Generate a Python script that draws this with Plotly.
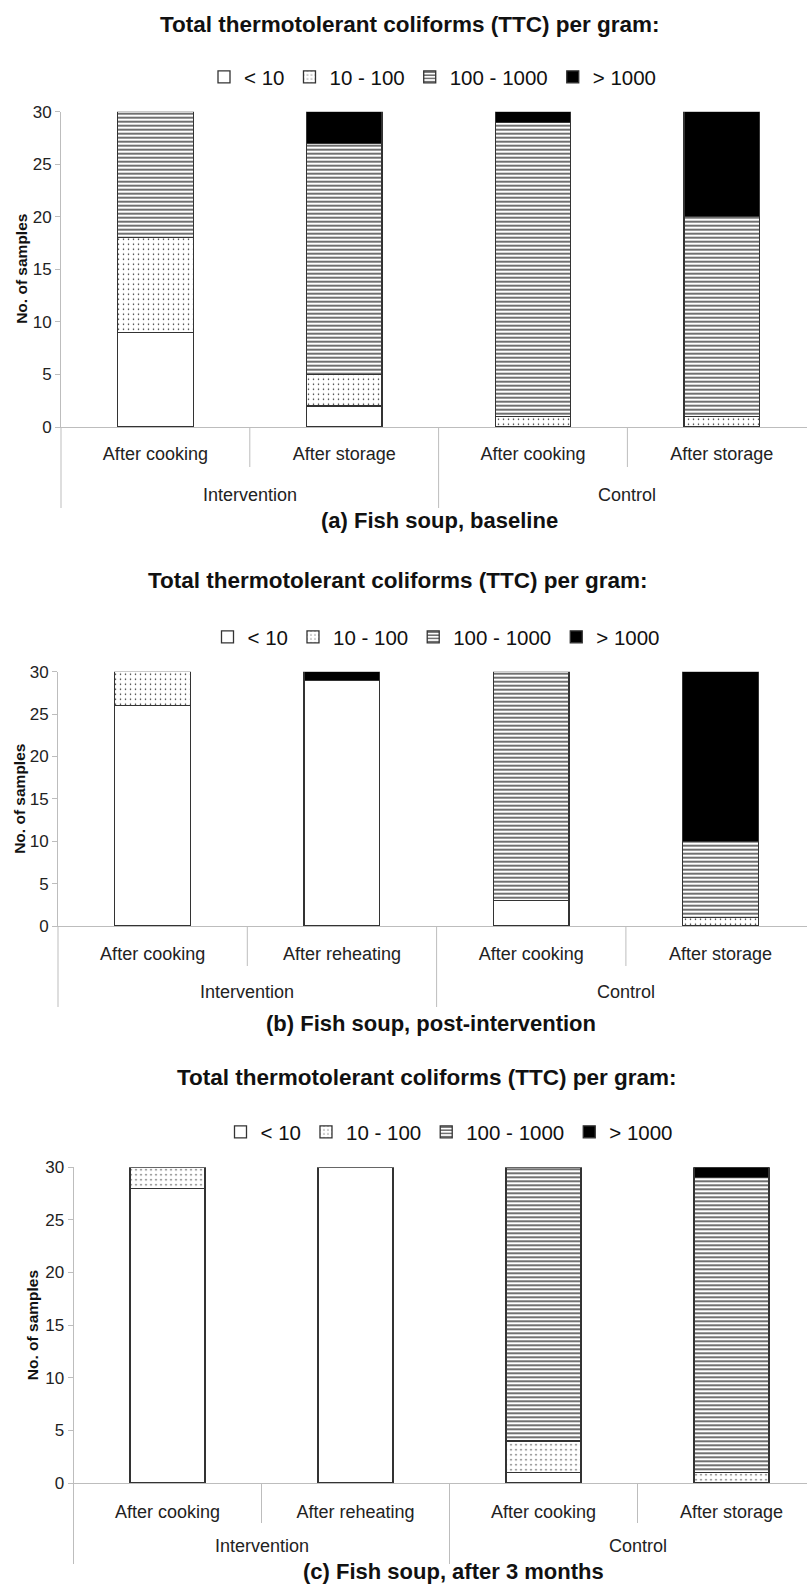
import plotly.graph_objects as go

# ---------------- data ----------------
levels = ["< 10", "10 - 100", "100 - 1000", "> 1000"]
groups = ["Intervention", "Control"]
cats_a = ["After cooking", "After storage", "After cooking", "After storage"]
cats_bc = ["After cooking", "After reheating", "After cooking", "After storage"]

a_lt10 = [9, 2, 0, 0]
a_10_100 = [9, 3, 1, 1]
a_100_1000 = [12, 22, 28, 19]
a_gt1000 = [0, 3, 1, 10]

b_lt10 = [26, 29, 3, 0]
b_10_100 = [4, 0, 0, 1]
b_100_1000 = [0, 0, 27, 9]
b_gt1000 = [0, 1, 0, 20]

c_lt10 = [28, 30, 1, 0]
c_10_100 = [2, 0, 3, 1]
c_100_1000 = [0, 0, 26, 28]
c_gt1000 = [0, 0, 0, 1]

title_text = "Total thermotolerant coliforms (TTC) per gram:"
captions = ["(a) Fish soup, baseline", "(b) Fish soup, post-intervention",
            "(c) Fish soup, after 3 months"]
y_title = "No. of samples"
y_ticks = [0, 5, 10, 15, 20, 25, 30]

# ---------------- layout geometry (pixels) ----------------
W, H = 807, 1589
FONT = "Liberation Sans, Arial, Helvetica, sans-serif"
AXC = "#bdbdbd"


def py(p):
    return 1 - p / H


def px(p):
    return p / W


panels = [
    dict(data=[a_lt10, a_10_100, a_100_1000, a_gt1000], cats=cats_a,
         left=61, catw=188.8, top=111.7, zero=427,
         title_y=25, title_x=410, leg_y=77, leg_x=433,
         cap_y=520, cap_x=439, lab=10, grp=68, ytx=21.5),
    dict(data=[b_lt10, b_10_100, b_100_1000, b_gt1000], cats=cats_bc,
         left=58, catw=189.3, top=671.7, zero=926,
         title_y=581, title_x=398, leg_y=637, leg_x=436.5,
         cap_y=1023, cap_x=431, lab=11, grp=66, ytx=20),
    dict(data=[c_lt10, c_10_100, c_100_1000, c_gt1000], cats=cats_bc,
         left=73.5, catw=188.0, top=1167.3, zero=1483,
         title_y=1077, title_x=427, leg_y=1132, leg_x=449.5,
         cap_y=1571, cap_x=453, lab=12, grp=63, ytx=32),
]

styles = [
    dict(color="white"),
    dict(color="white", pattern=dict(shape=".", fgcolor="#222", bgcolor="white",
                                     size=5, solidity=0.07, fillmode="replace")),
    dict(color="white", pattern=dict(shape="-", fgcolor="#111", bgcolor="white",
                                     size=4, solidity=0.3, fillmode="replace")),
    dict(color="black"),
]

fig = go.Figure()
shapes = []
annotations = []

for i, p in enumerate(panels):
    n = "" if i == 0 else str(i + 1)
    xa, ya = "x" + n, "y" + n
    leg = "legend" + n
    xpos = list(range(len(p["cats"])))
    for lv, vals, st in zip(levels, p["data"], styles):
        fig.add_trace(go.Bar(
            x=xpos, y=[v if v else None for v in vals], name=lv,
            xaxis=xa, yaxis=ya, legend=leg, width=0.4,
            marker=dict(line=dict(color="#333", width=1.3), **st),
            hoverinfo="skip"))

    r0 = -0.5
    r1 = r0 + (W - p["left"]) / p["catw"]
    ph = p["zero"] - p["top"]
    xkey = "xaxis" + n
    ykey = "yaxis" + n
    fig.layout[xkey] = dict(
        domain=[px(p["left"]), 1.0], range=[r0, r1], anchor=ya,
        tickvals=xpos, ticktext=p["cats"], ticks="", showgrid=False,
        zeroline=False, showline=True, linecolor=AXC, linewidth=1,
        tickfont=dict(size=18, color="#222", family=FONT),
        ticklabelstandoff=p["lab"], automargin=False, fixedrange=True)
    fig.layout[ykey] = dict(
        domain=[py(p["zero"]), py(p["top"])], range=[0, 30], anchor=xa,
        tickvals=y_ticks, ticks="outside", ticklen=5, tickcolor=AXC,
        showline=True, linecolor=AXC, linewidth=1, showgrid=False,
        zeroline=False, tickfont=dict(size=17, color="#222", family=FONT),
        automargin=False, fixedrange=True)

    # category dividers below the axis
    nb = len(p["cats"])
    for k in range(nb):
        b = k - 0.5
        long_ = (k % 2 == 0)
        L = 81 if long_ else 40
        shapes.append(dict(
            type="line", xref=xa + " domain", yref=ya + " domain",
            x0=(b - r0) / (r1 - r0), x1=(b - r0) / (r1 - r0),
            y0=0, y1=-L / ph, line=dict(color=AXC, width=1)))

    # group labels
    for g, gx in zip(groups, [0.5, 2.5]):
        annotations.append(dict(
            text=g, xref=xa, yref=ya + " domain", x=gx, y=0,
            yanchor="middle", xanchor="center", yshift=-p["grp"],
            showarrow=False, font=dict(size=18, color="#222", family=FONT)))

    # titles
    annotations.append(dict(
        text="<b>" + title_text + "</b>", xref="paper", yref="paper",
        x=px(p["title_x"]), y=py(p["title_y"]), xanchor="center",
        yanchor="middle", showarrow=False,
        font=dict(size=22.5, color="#111", family=FONT)))
    annotations.append(dict(
        text="<b>" + captions[i] + "</b>", xref="paper", yref="paper",
        x=px(p["cap_x"]), y=py(p["cap_y"]), xanchor="center",
        yanchor="middle", showarrow=False,
        font=dict(size=22, color="#111", family=FONT)))
    annotations.append(dict(
        text="<b>" + y_title + "</b>", xref="paper", yref=ya + " domain",
        x=px(p["ytx"]), y=0.5, xanchor="center", yanchor="middle",
        textangle=-90, showarrow=False,
        font=dict(size=15.5, color="#111", family=FONT)))

    fig.layout[leg] = dict(
        orientation="h", x=px(p["leg_x"]), xanchor="center",
        y=py(p["leg_y"]), yanchor="middle", traceorder="normal",
        itemwidth=30, bgcolor="rgba(0,0,0,0)",
        font=dict(size=20.5, color="#111", family=FONT))

fig.update_layout(
    width=W, height=H, margin=dict(l=0, r=0, t=0, b=0),
    paper_bgcolor="white", plot_bgcolor="white", barmode="stack",
    showlegend=True, shapes=shapes, annotations=annotations,
    font=dict(family=FONT, color="#222"))

# remove the default 8px page margin so the figure fills the window exactly
fig.write_html("out.html",
               config={"displayModeBar": False},
               post_script="document.body.style.margin='0px';"
                           "document.body.style.overflow='hidden';")
